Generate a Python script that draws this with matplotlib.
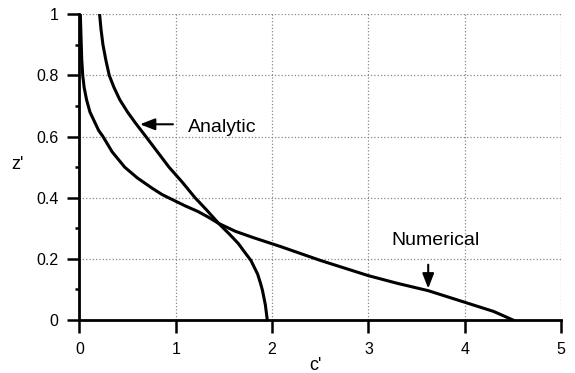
import matplotlib.pyplot as plt
from matplotlib.ticker import MultipleLocator

plt.rcParams['font.family'] = ['Liberation Sans', 'DejaVu Sans']

# curves
analytic_c = [0.21, 0.225, 0.245, 0.275, 0.31, 0.36, 0.42, 0.50, 0.58, 0.69, 0.81, 0.93, 1.07, 1.2, 1.32, 1.445,
              1.56, 1.65, 1.72, 1.78, 1.85, 1.88, 1.90, 1.93, 1.95]
analytic_z = [1.0, 0.95, 0.9, 0.85, 0.8, 0.76, 0.72, 0.68, 0.645, 0.60, 0.55, 0.50, 0.45, 0.40, 0.36, 0.316,
              0.28, 0.25, 0.22, 0.195, 0.15, 0.12, 0.097, 0.05, 0.0]

numerical_c = [0.01, 0.015, 0.025, 0.035, 0.05, 0.075, 0.11, 0.155, 0.2, 0.245, 0.34, 0.47, 0.6, 0.76, 0.86,
               0.97, 1.1, 1.23, 1.34, 1.445, 1.62, 1.8, 2.09, 2.5, 3.0, 3.3, 3.62, 4.0, 4.3, 4.5]
numerical_z = [1.0, 0.95, 0.85, 0.8, 0.76, 0.72, 0.68, 0.65, 0.62, 0.60, 0.55, 0.50, 0.465, 0.43, 0.41,
               0.393, 0.373, 0.355, 0.336, 0.316, 0.29, 0.27, 0.24, 0.195, 0.145, 0.12, 0.096, 0.058, 0.028, 0.0]

fig = plt.figure(figsize=(5.75, 3.73), dpi=100)
ax = fig.add_axes([0.138, 0.142, 0.838, 0.82])

ax.plot(analytic_c, analytic_z, color='black', lw=2.2)
ax.plot(numerical_c, numerical_z, color='black', lw=2.2)

ax.set_xlim(0, 5)
ax.set_ylim(0, 1)
ax.xaxis.set_major_locator(MultipleLocator(1))
ax.yaxis.set_major_locator(MultipleLocator(0.2))
ax.yaxis.set_minor_locator(MultipleLocator(0.1))
ax.yaxis.set_major_formatter(plt.FuncFormatter(lambda v, p: f'{v:g}'))

ax.grid(True, which='major', linestyle=':', color='#888888', lw=0.9)
ax.spines['top'].set_visible(False)
ax.spines['right'].set_visible(False)
ax.spines['left'].set_linewidth(2)
ax.spines['bottom'].set_linewidth(2)
ax.tick_params(axis='both', which='major', direction='out', length=9, width=1.8, labelsize=11.5)
ax.tick_params(axis='x', pad=7)
ax.tick_params(axis='y', pad=6)
ax.tick_params(axis='y', which='minor', direction='out', length=3, width=1.8)

ax.set_xlabel("c'", fontsize=13, va='top')
ax.set_ylabel("z'", fontsize=13, rotation=0, va='center', ha='center')
ax.xaxis.set_label_coords(0.49, -0.12)
ax.yaxis.set_label_coords(-0.128, 0.51)

arrow = dict(arrowstyle='-|>,head_length=0.9,head_width=0.35', color='black', lw=1.5)
ax.annotate('', xy=(0.6, 0.64), xytext=(1.0, 0.64), arrowprops=arrow)
ax.text(1.13, 0.63, 'Analytic', fontsize=14, va='center', ha='left')
ax.annotate('', xy=(3.62, 0.094), xytext=(3.62, 0.19), arrowprops=arrow)
ax.text(3.24, 0.26, 'Numerical', fontsize=14, va='center', ha='left')

fig.savefig('out.png', dpi=100)
